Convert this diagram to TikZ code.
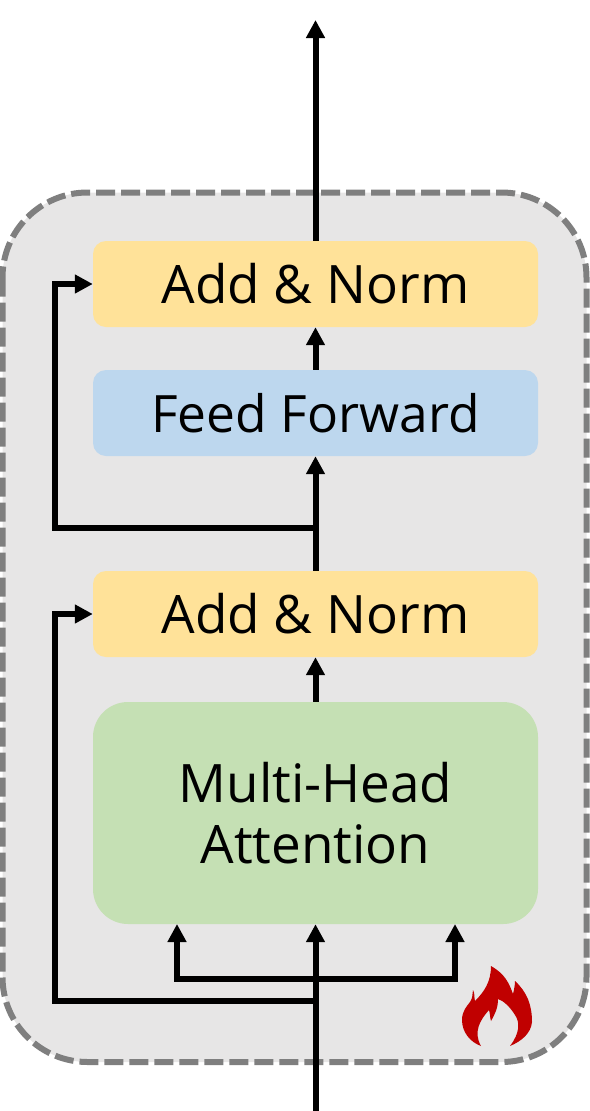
\documentclass[tikz,border=0pt]{standalone}
\usepackage{fontspec}
\setmainfont{Open Sans}
\usepackage[dvipsnames]{xcolor}
\usetikzlibrary{arrows.meta, positioning, calc}
\definecolor{normyellow}{HTML}{FFE299}
\definecolor{feedblue}{HTML}{BDD7EE}
\definecolor{attgreen}{HTML}{C5E0B4}
\definecolor{panelgray}{HTML}{E7E6E6}
\definecolor{dashgray}{HTML}{7F7F7F}
\definecolor{flamered}{HTML}{C00000}
\tikzset{
  blockbox/.style={draw=none, minimum width=445pt, minimum height=86pt, inner sep=0pt, rounded corners=13pt, font=\fontsize{53}{61}\selectfont, text=black},
  flow/.style={line width=6pt, draw=black, -{Triangle[length=18pt, width=18pt]}}
}

\begin{document}
\begin{tikzpicture}[x=1pt, y=-1pt]
  \useasboundingbox (0,0) rectangle (589,1111);
  %% Outer panel
  \draw[fill=panelgray, draw=dashgray, line width=6pt, dash pattern=on 19pt off 6pt, rounded corners=85pt] (2.5,192.5) rectangle (586.5,1062);
  %% Blocks
  \node[blockbox, fill=attgreen, minimum height=222pt, rounded corners=35pt, align=center] (attention) at (315.5,813) {Multi-Head\\Attention};
  \node[blockbox, fill=normyellow] (lowernorm) at (315.5,614) {Add \& Norm};
  \node[blockbox, fill=feedblue, font=\fontsize{51.5}{61}\selectfont] (feedforward) at (315.5,413) {Feed Forward};
  \node[blockbox, fill=normyellow] (uppernorm) at (315.5,284) {Add \& Norm};
  %% Free ends and junctions
  \coordinate (input) at (315.5,1111);
  \coordinate (output) at (315.5,20);
  \coordinate (lowerskip) at (315.5,1001);
  \coordinate (upperskip) at (315.5,528);
  \coordinate (fork) at (315.5,979);
  \coordinate (lefthead) at (177,924);
  \coordinate (righthead) at (455,924);
  %% Main line
  \draw[flow] (input) -- (attention.south);
  \draw[flow] (attention.north) -- (lowernorm.south);
  \draw[flow] (lowernorm.north) -- (feedforward.south);
  \draw[flow] (feedforward.north) -- (uppernorm.south);
  \draw[flow] (uppernorm.north) -- (output);
  %% Fork into the attention block
  \draw[flow] (fork) -| (lefthead);
  \draw[flow] (fork) -| (righthead);
  %% Skip connections
  \draw[flow] (lowerskip) -- (55,1001) |- (lowernorm.west);
  \draw[flow] (upperskip) -- (55,528) |- (uppernorm.west);
  %% Flame
  \fill[flamered] (491,966) .. controls (505,974) and (509,983) .. (513,994)
    .. controls (514,990) and (515,985) .. (515,981)
    .. controls (527,992) and (532,1005) .. (532,1022)
    .. controls (531,1033) and (522,1041) .. (510,1046)
    .. controls (520,1033) and (520,1022) .. (515,1015)
    .. controls (510,1007) and (504,1001) .. (498,999)
    .. controls (498,1008) and (495,1014) .. (491,1021)
    .. controls (490,1018) and (490,1013) .. (489,1010)
    .. controls (480,1020) and (473,1032) .. (481,1046)
    .. controls (470,1042) and (462,1032) .. (462,1020)
    .. controls (462,1011) and (467,1006) .. (470,1002)
    .. controls (473,997) and (472,996) .. (473,990)
    .. controls (475,993) and (474,998) .. (475,1001)
    .. controls (484,992) and (491,982) .. (491,966) -- cycle;
\end{tikzpicture}
\end{document}
